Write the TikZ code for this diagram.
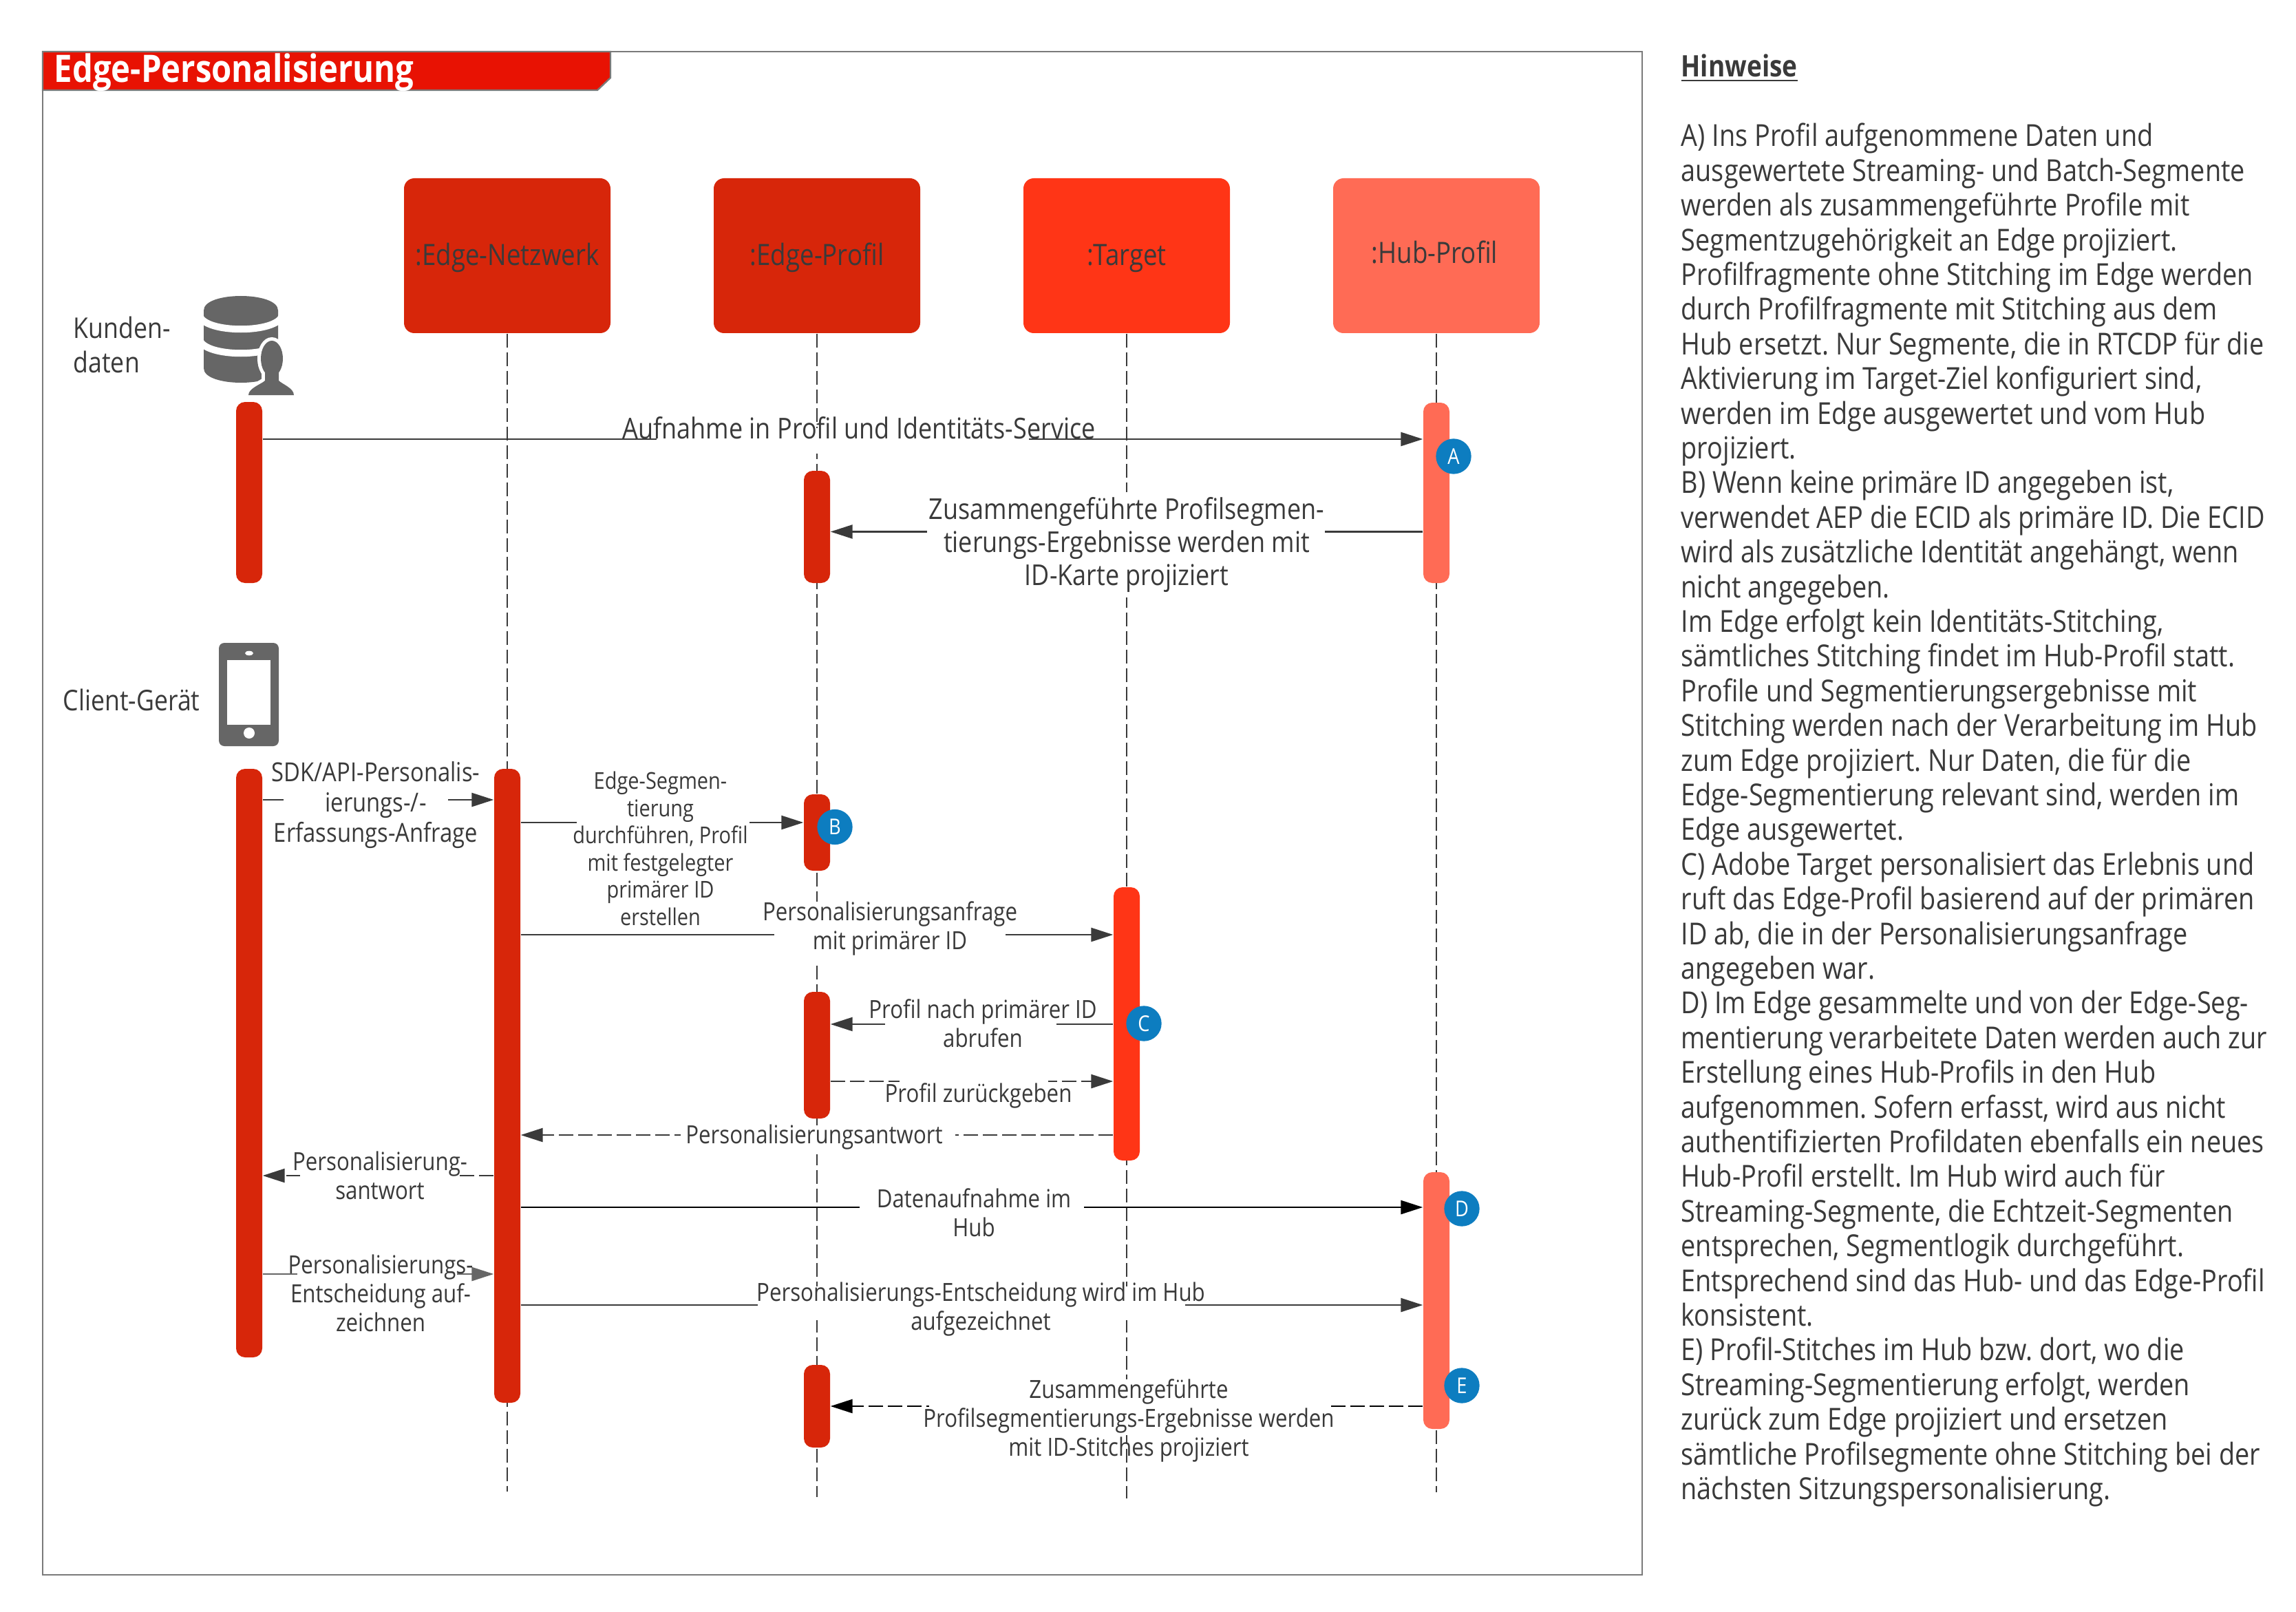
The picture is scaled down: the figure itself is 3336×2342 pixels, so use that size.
\documentclass[tikz,border=0pt]{standalone}
\usepackage{fontspec}
\usetikzlibrary{arrows.meta}
\setmainfont{Open Sans}[FakeStretch=0.86]
\definecolor{edgered}{HTML}{D7260A}
\definecolor{targetred}{HTML}{FF3516}
\definecolor{hubred}{HTML}{FF6B55}
\definecolor{titlered}{HTML}{E81203}
\definecolor{markerblue}{HTML}{0D7DC0}
\definecolor{icongray}{HTML}{666666}
\definecolor{framegray}{HTML}{7A7A7A}
\definecolor{inkgray}{HTML}{3A3A3A}
\tikzset{
  headbox/.style={rectangle,rounded corners=4.5pt,minimum width=90pt,minimum height=67.5pt,inner sep=0pt,text=inkgray,text height=11pt,text depth=2.3pt,font=\fontsize{12.8}{14}\selectfont},
  lifeline/.style={draw=inkgray,line width=0.6pt,dash pattern=on 6pt off 2.1pt},
  actbar/.style={rectangle,rounded corners=3.9pt,minimum width=11.4pt,inner sep=0pt},
  marker/.style={circle,fill=markerblue,minimum size=15.4pt,inner sep=0pt,text=white,font=\fontsize{9.5}{11}\selectfont},
  msg/.style={draw=inkgray,line width=0.75pt,-{Triangle[length=9.6pt,width=6pt]}},
  msgdash/.style={msg,dash pattern=on 6.3pt off 2.1pt},
  msgblack/.style={draw=black,line width=0.75pt,-{Triangle[length=9.6pt,width=6pt]}},
  msggray/.style={draw=icongray,line width=0.75pt,-{Triangle[length=9.6pt,width=6pt]}},
  lab/.style={text=inkgray,align=center,inner sep=0pt},
  fa/.style={lab,font=\fontsize{12.55}{14.4}\selectfont},
  fb/.style={lab,font=\fontsize{11.44}{13.2}\selectfont},
  fc/.style={lab,font=\fontsize{10.1}{11.85}\selectfont},
  fd/.style={lab,font=\fontsize{10.9}{12.6}\selectfont},
}
\newcommand{\actbar}[5]{\node[actbar,fill=#5,minimum height={(#4-#3)*0.3pt}] (#1) at (#2,{(#3+#4)/2}) {};}
\newcommand{\msgr}[4]{\draw[#4] (#1.east |- 0,#3) -- (#2.west |- 0,#3);}
\newcommand{\msgl}[4]{\draw[#4] (#1.west |- 0,#3) -- (#2.east |- 0,#3);}
\newcommand{\gapmask}[4]{\fill[white] (#1,#2) rectangle (#3,#4);}
\begin{document}
\begin{tikzpicture}[x=0.3pt,y=-0.3pt]
\useasboundingbox[fill=white] (0,0) rectangle (3336,2342);
% frame and title
\draw[framegray,line width=0.7pt] (62,75) rectangle (2386,2288);
\draw[framegray,fill=titlered,line width=0.7pt] (62,75) -- (887,75) -- (887,113) -- (868,131) -- (62,131) -- cycle;
\node[anchor=base west,inner sep=0pt,text=white,font=\fontsize{16.5}{18}\selectfont\bfseries] (title) at (78,120) {Edge-Personalisierung};
% header boxes
\node[headbox,fill=edgered] (netz) at (737,371.5) {:Edge-Netzwerk};
\node[headbox,fill=edgered] (prof) at (1187,371.5) {:Edge-Profil};
\node[headbox,fill=targetred] (targ) at (1637,371.5) {:Target};
\node[headbox,fill=hubred] (hub) at (2087,371.5) {\kern-1.5pt\raisebox{1pt}{:Hub-Profil}};
% lifelines
\coordinate (netzend) at (737,2167);
\coordinate (profend) at (1187,2175);
\coordinate (targend) at (1637,2177);
\coordinate (hubend) at (2087,2168);
\draw[lifeline] (netz.south) -- (netzend);
\draw[lifeline] (prof.south) -- (profend);
\draw[lifeline] (targ.south) -- (targend);
\draw[lifeline] (hub.south) -- (hubend);
% activation bars
\actbar{kunde}{362}{584}{847}{edgered}
\actbar{profa}{1187}{684}{847}{edgered}
\actbar{huba}{2087}{585}{847}{hubred}
\actbar{client}{362}{1117}{1972}{edgered}
\actbar{edge}{737}{1117}{2038}{edgered}
\actbar{profb}{1187}{1154}{1265}{edgered}
\actbar{profc}{1187}{1441}{1625}{edgered}
\actbar{profe}{1187}{1983}{2103}{edgered}
\actbar{targa}{1637}{1289}{1686}{targetred}
\actbar{hubb}{2087}{1703}{2076}{hubred}
% connectors
\msgr{kunde}{huba}{638}{msg}
\msgl{huba}{profa}{772.5}{msg}
\msgr{client}{edge}{1162}{msg}
\msgr{edge}{profb}{1195}{msg}
\msgr{edge}{targa}{1358}{msg}
\msgl{targa}{profc}{1488}{msg}
\msgr{profc}{targa}{1571}{msgdash}
\msgl{targa}{edge}{1649}{msgdash}
\msgl{edge}{client}{1708}{msgdash}
\msgr{edge}{hubb}{1754}{msgblack}
\msgr{client}{edge}{1851}{msggray}
\msgr{edge}{hubb}{1896}{msg}
\msgl{hubb}{profe}{2043}{msgblack,dash pattern=on 6.3pt off 2.1pt}
% gaps behind labels
\gapmask{954}{622}{1495}{659}
\gapmask{1347}{715}{1925}{868}
\gapmask{412}{1150}{651}{1175}
\gapmask{838}{1185}{1089}{1205}
\gapmask{1125}{1310}{1461}{1402}
\gapmask{1286}{1480}{1535}{1496}
\gapmask{1307}{1565}{1523}{1577}
\gapmask{989}{1635}{1388}{1677}
\gapmask{436}{1700}{664}{1716}
\gapmask{1249}{1748}{1575}{1760}
\gapmask{432}{1845}{664}{1857}
\gapmask{1101}{1869}{1722}{1918}
\gapmask{1350}{2004}{1928}{2085}
% labels
\node[fa,anchor=base] (l1) at (1248,637) {Aufnahme in Profil und Identitäts-Service};
\node[fa] (l2) at (1637,792) {Zusammengeführte Profilsegmen-\\tierungs-Ergebnisse werden mit\\ID-Karte projiziert};
\node[fb] (l3) at (546,1170) {SDK/API-Personalis-\\ierungs-/-\\Erfassungs-Anfrage};
\node[fc] (l4) at (959.5,1233) {Edge-Segmen-\\tierung\\durchführen, Profil\\mit festgelegter\\primärer ID\\erstellen};
\node[fd] (l5) at (1293,1349) {Personalisierungsanfrage\\mit primärer ID};
\node[fd] (l6) at (1428,1487) {Profil nach primärer ID\\abrufen};
\node[fd] (l7) at (1421.5,1592) {Profil zurückgeben};
\node[fd] (l8) at (1183,1652) {Personalisierungsantwort};
\node[fd] (l9) at (552,1708) {Personalisierung-\\santwort};
\node[fd] (l10) at (1415,1762) {Datenaufnahme im\\Hub};
\node[fd] (l11) at (553,1879) {Personalisierungs-\\Entscheidung auf-\\zeichnen};
\node[fd] (l12) at (1425,1902) {Personalisierungs-Entscheidung wird im Hub\\aufgezeichnet};
\node[fd] (l13) at (1640,2064) {Zusammengeführte\\Profilsegmentierungs-Ergebnisse werden\\mit ID-Stitches projiziert};
% markers
\node[marker] (ma) at (2112,663) {A};
\node[marker] (mb) at (1213,1201.5) {B};
\node[marker] (mc) at (1662,1487) {C};
\node[marker] (md) at (2124,1756) {D};
\node[marker] (me) at (2124,2013) {E};
% side labels
\node[lab,anchor=west,align=left,font=\fontsize{12.45}{15}\selectfont] (kundenlab) at (106,501) {Kunden-\\daten};
\node[lab,anchor=west,font=\fontsize{12.45}{15}\selectfont] (clientlab) at (91,1017) {Client-Gerät};
% database icon
\fill[icongray] (296,451) -- (296,535) .. controls (296,563) and (404,563) .. (404,535) -- (404,451) .. controls (404,423) and (296,423) .. (296,451) -- cycle;
\draw[white,line width=3pt] (290,458) .. controls (296,485) and (404,485) .. (410,458);
\draw[white,line width=3pt] (290,493) .. controls (296,520) and (404,520) .. (410,493);
% person on the database
\draw[white,line width=3pt,fill=white] (395,521) ellipse [x radius=16,y radius=26];
\draw[white,line width=3pt,fill=white] (385,540) -- (385,553) .. controls (380,558) and (361,564) .. (361,574) -- (427,574) .. controls (427,564) and (410,558) .. (405,553) -- (405,540) -- cycle;
\fill[icongray] (395,521) ellipse [x radius=16,y radius=26];
\fill[icongray] (385,540) -- (385,553) .. controls (380,558) and (361,564) .. (361,574) -- (427,574) .. controls (427,564) and (410,558) .. (405,553) -- (405,540) -- cycle;
% phone icon
\fill[icongray,rounded corners=2.4pt] (318,934) rectangle (405,1084);
\fill[white] (330,959) rectangle (393,1053);
\fill[white] (362,949) ellipse [x radius=6,y radius=3.3];
\fill[white] (362,1065) circle [radius=8];
% notes
\node[anchor=base west,inner sep=0pt,text=inkgray,font=\fontsize{12.9}{15}\selectfont\bfseries] (hinweise) at (2442,112) {\underline{Hinweise}};
\node[anchor=north west,inner sep=0pt,align=left,text=inkgray,font=\fontsize{13.2}{15.12}\selectfont\frenchspacing] (notes) at (2442,178.5) {A) Ins Profil aufgenommene Daten und\\
ausgewertete Streaming- und Batch-Segmente\\
werden als zusammengeführte Profile mit\\
Segmentzugehörigkeit an Edge projiziert.\\
Profilfragmente ohne Stitching im Edge werden\\
durch Profilfragmente mit Stitching aus dem\\
Hub ersetzt. Nur Segmente, die in RTCDP für die\\
Aktivierung im Target-Ziel konfiguriert sind,\\
werden im Edge ausgewertet und vom Hub\\
projiziert.\\
B) Wenn keine primäre ID angegeben ist,\\
verwendet AEP die ECID als primäre ID. Die ECID\\
wird als zusätzliche Identität angehängt, wenn\\
nicht angegeben.\\
Im Edge erfolgt kein Identitäts-Stitching,\\
sämtliches Stitching findet im Hub-Profil statt.\\
Profile und Segmentierungsergebnisse mit\\
Stitching werden nach der Verarbeitung im Hub\\
zum Edge projiziert. Nur Daten, die für die\\
Edge-Segmentierung relevant sind, werden im\\
Edge ausgewertet.\\
C) Adobe Target personalisiert das Erlebnis und\\
ruft das Edge-Profil basierend auf der primären\\
ID ab, die in der Personalisierungsanfrage\\
angegeben war.\\
D) Im Edge gesammelte und von der Edge-Seg-\\
mentierung verarbeitete Daten werden auch zur\\
Erstellung eines Hub-Profils in den Hub\\
aufgenommen. Sofern erfasst, wird aus nicht\\
authentifizierten Profildaten ebenfalls ein neues\\
Hub-Profil erstellt. Im Hub wird auch für\\
Streaming-Segmente, die Echtzeit-Segmenten\\
entsprechen, Segmentlogik durchgeführt.\\
Entsprechend sind das Hub- und das Edge-Profil\\
konsistent.\\
E) Profil-Stitches im Hub bzw. dort, wo die\\
Streaming-Segmentierung erfolgt, werden\\
zurück zum Edge projiziert und ersetzen\\
sämtliche Profilsegmente ohne Stitching bei der\\
nächsten Sitzungspersonalisierung.};
\end{tikzpicture}
\end{document}
